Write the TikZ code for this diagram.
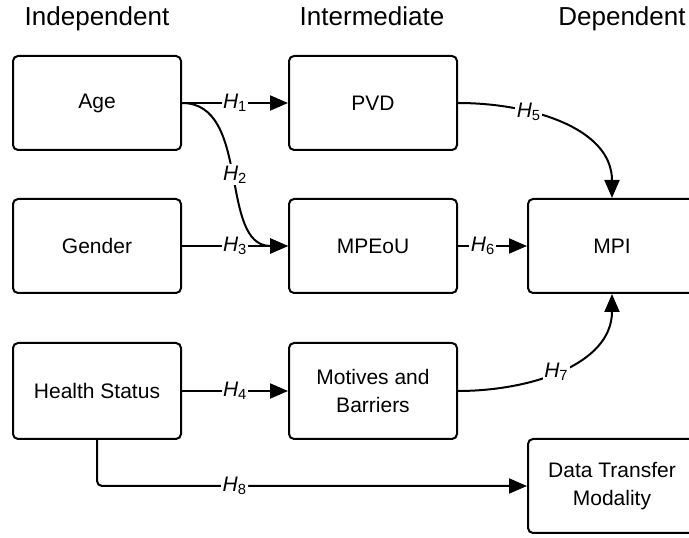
\documentclass[tikz,border=0pt]{standalone}
\usepackage{fontspec}
\setmainfont{Liberation Sans}
\usepackage{tikz}
\usetikzlibrary{arrows.meta}
\definecolor{hsink}{HTML}{000000}
\newcommand{\hypno}[1]{{\itshape H}\textsubscript{#1}}

\begin{document}
\begin{tikzpicture}[x=1pt,y=1pt,
  varbox/.style={draw=hsink,line width=2pt,rounded corners=5pt,minimum width=168pt,
                 minimum height=94pt,align=center,font=\fontsize{21}{28}\selectfont},
  colhead/.style={anchor=base,font=\fontsize{26}{30}\selectfont},
  hyp/.style={fill=white,inner sep=1.5pt,font=\fontsize{21}{25}\selectfont},
  link/.style={draw=hsink,line width=2pt,-{Triangle[length=18pt,width=15pt]}}]
\useasboundingbox (0,0) rectangle (689,538);
\clip (0,0) rectangle (689,538);
\node[colhead] (indep) at (97,512) {Independent};
\node[colhead] (inter) at (372,512) {Intermediate};
\node[colhead] (dep) at (622,512) {Dependent};
\node[varbox] (age) at (97,435) {Age};
\node[varbox] (gender) at (97,292) {Gender};
\node[varbox,minimum height=96pt] (health) at (97,147) {Health Status};
\node[varbox] (pvd) at (373,435) {PVD};
\node[varbox] (mpeou) at (373,292) {MPEoU};
\node[varbox,minimum height=96pt] (motives) at (373,147) {Motives and\\Barriers};
\node[varbox] (mpi) at (612,292) {MPI};
\node[varbox] (dtm) at (612,52) {Data Transfer\\Modality};
\draw[link] (age.east) -- node[hyp] {\hypno{1}} (pvd.west);
\draw[link] (age.east) to[out=0,in=180] node[hyp] {\hypno{2}} (mpeou.west);
\draw[link] (gender.east) -- node[hyp] {\hypno{3}} (mpeou.west);
\draw[link] (health.east) -- node[hyp] {\hypno{4}} (motives.west);
\draw[link] (pvd.east) to[out=0,in=90] node[hyp,pos=0.33] {\hypno{5}} (mpi.north);
\draw[link] (mpeou.east) -- node[hyp,pos=0.36] {\hypno{6}} (mpi.west);
\draw[link] (motives.east) to[out=0,in=-90] node[hyp,pos=0.47] {\hypno{7}} (mpi.south);
\draw[link,rounded corners=5pt] (health.south) |- node[hyp,pos=0.66] {\hypno{8}} (dtm.west);
\end{tikzpicture}
\end{document}
